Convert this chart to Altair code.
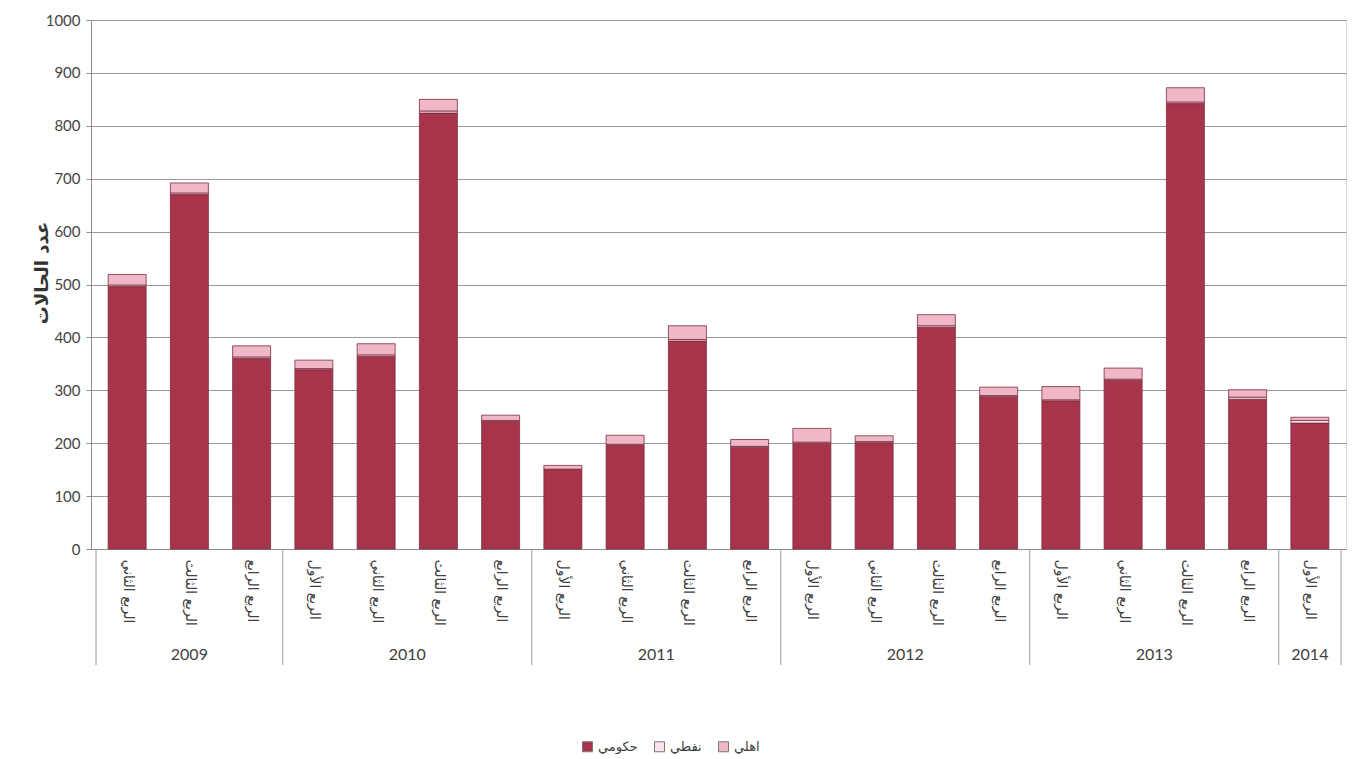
import json
import altair as alt
import pandas as pd

# ---- data ----
quarter_labels = [
    "الربع الثاني", "الربع الثالث", "الربع الرابع",
    "الربع الأول", "الربع الثاني", "الربع الثالث", "الربع الرابع",
    "الربع الأول", "الربع الثاني", "الربع الثالث", "الربع الرابع",
    "الربع الأول", "الربع الثاني", "الربع الثالث", "الربع الرابع",
    "الربع الأول", "الربع الثاني", "الربع الثالث", "الربع الرابع",
    "الربع الأول",
]
year_labels = ["2009", "2010", "2011", "2012", "2013", "2014"]
year_counts = [3, 4, 4, 4, 4, 1]

series_names = ["حكومي", "نفطي", "اهلي"]
gov = [496, 670, 360, 339, 364, 824, 241, 150, 196, 393, 192, 200, 201, 419, 288, 280, 319, 842, 283, 238]
oil = [3, 3, 3, 2, 3, 4, 2, 1, 2, 3, 2, 2, 2, 3, 2, 2, 2, 3, 4, 5]
priv = [20, 19, 21, 16, 21, 22, 10, 7, 17, 26, 13, 26, 11, 21, 16, 25, 21, 27, 14, 6]

colors = ["#A8344C", "#FBE3EA", "#F0B7C6"]

# ---- tables ----
rows = []
for i in range(len(quarter_labels)):
    for k, vals in enumerate([gov, oil, priv]):
        rows.append({"x": i, "series": series_names[k], "value": vals[i], "ord": k})
bars_df = pd.DataFrame(rows)

bounds = [-0.5]
mids = []
start = 0
for c in year_counts:
    mids.append(start + (c - 1) / 2)
    start += c
    bounds.append(start - 0.5)
bounds_df = pd.DataFrame({"x": bounds})
years_df = pd.DataFrame({"x": mids, "year": year_labels})

W, H = 1255, 529
n = len(quarter_labels)

label_expr = json.dumps(quarter_labels, ensure_ascii=False) + "[datum.value]"

x_enc = alt.X(
    "x:Q",
    scale=alt.Scale(domain=[-0.5, n - 0.5], nice=False, zero=False),
    axis=alt.Axis(
        values=list(range(n)),
        labelExpr=label_expr,
        labelAngle=90,
        labelAlign="left",
        labelBaseline="middle",
        labelPadding=10,
        labelFont="DejaVu Sans",
        labelFontSize=14,
        labelColor="#404040",
        ticks=False,
        grid=False,
        domainColor="#8c8c8c",
        title=None,
    ),
)

bars = alt.Chart(bars_df).mark_bar(size=38, stroke="#7a2d3d", strokeWidth=0.8).encode(
    x=x_enc,
    y=alt.Y(
        "value:Q",
        stack="zero",
        scale=alt.Scale(domain=[0, 1000], nice=False),
        axis=alt.Axis(
            values=list(range(0, 1001, 100)),
            format="d",
            title="عدد الحالات",
            titleFont="DejaVu Sans",
            titleFontWeight="bold",
            titleFontSize=18,
            titleColor="#333333",
            titleX=-40,
            titleY=H / 2 - 12,
            labelFont="Lato",
            labelFontSize=15,
            labelColor="#444444",
            labelPadding=6,
            tickSize=5,
            tickColor="#8c8c8c",
            domainColor="#8c8c8c",
            gridColor="#9a9a9a",
        ),
    ),
    color=alt.Color(
        "series:N",
        scale=alt.Scale(domain=series_names, range=colors),
        legend=alt.Legend(
            orient="none",
            legendX=490,
            legendY=720,
            direction="horizontal",
            title=None,
            symbolType="square",
            symbolSize=100,
            symbolStrokeColor="#777777",
            symbolStrokeWidth=1,
            labelFont="DejaVu Sans",
            labelFontSize=13,
            labelColor="#404040",
            columnPadding=14,
        ),
    ),
    order=alt.Order("ord:Q"),
)

seps = alt.Chart(bounds_df).mark_rule(color="#9a9a9a", strokeWidth=1).encode(
    x=x_enc,
    y=alt.value(H),
    y2=alt.value(H + 116),
)

years = alt.Chart(years_df).mark_text(
    font="Lato", fontSize=16, color="#404040", baseline="middle"
).encode(
    x=x_enc,
    y=alt.value(H + 106),
    text="year:N",
)

chart = (
    alt.layer(bars, seps, years)
    .properties(width=W, height=H, padding={"left": 25, "top": 5, "right": 2, "bottom": 0})
    .configure_view(fill="#F9EDF1", stroke=None)
    .configure(background="white")
)

chart.save("out.html", embed_options={"renderer": "svg", "actions": False})
